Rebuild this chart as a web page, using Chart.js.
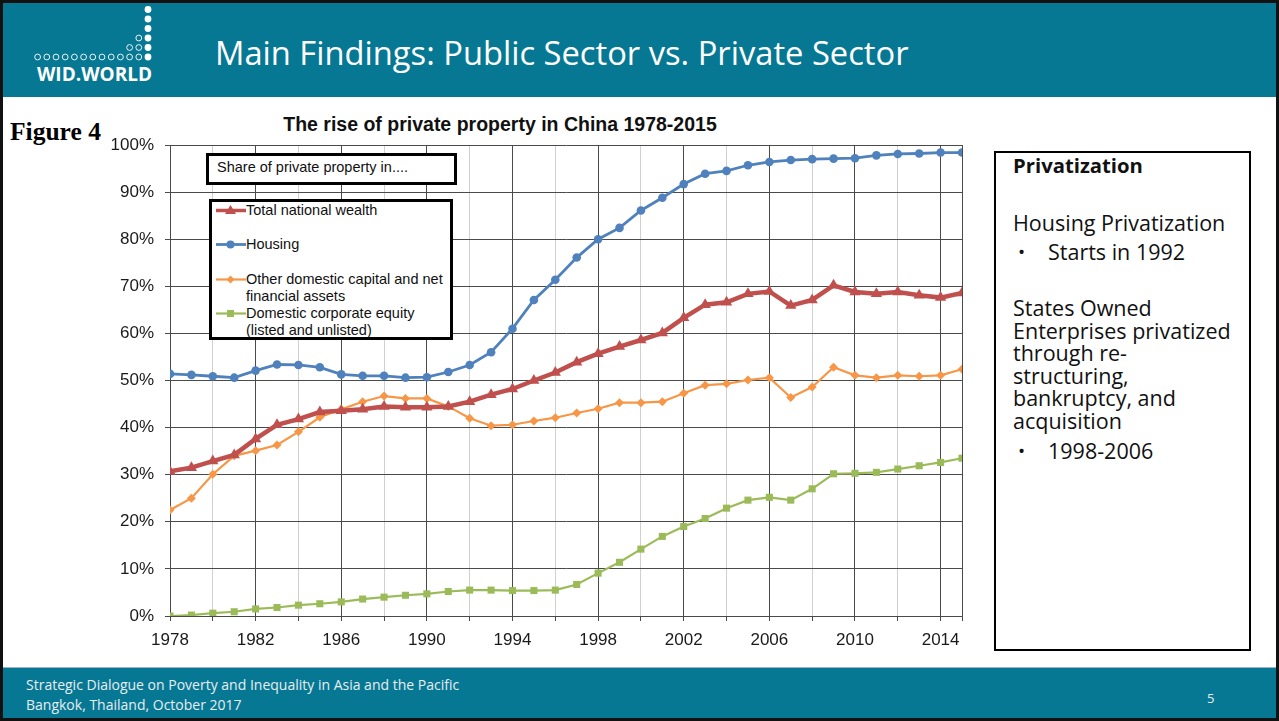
<!DOCTYPE html>
<html>
<head>
<meta charset="utf-8">
<title>Main Findings: Public Sector vs. Private Sector</title>
<script src="https://cdn.jsdelivr.net/npm/chart.js@4.4.0/dist/chart.umd.min.js"></script>
<style>
  html, body { margin: 0; padding: 0; }
  body {
    width: 1279px; height: 721px; position: relative; overflow: hidden;
    background: #fff; font-family: "Open Sans", sans-serif;
  }
  .frame { position: absolute; left: 0; top: 0; width: 1279px; height: 721px;
    border: 3px solid #111; box-sizing: border-box; z-index: 10; pointer-events: none; }
  .band { position: absolute; left: 0; width: 1279px; background: #077893; }
  .header { top: 0; height: 97px; }
  .footer { top: 667px; height: 54px; border-top: 1px solid #9fb3c8; }
  .header h1 {
    position: absolute; left: 215px; top: 37px; margin: 0;
    font-weight: normal; font-size: 32.7px; line-height: 1; color: #fff; white-space: nowrap;
  }
  .logo { position: absolute; left: 34px; top: 3px; }
  .logo-text { position: absolute; left: 37px; top: 65px; font-family: "Open Sans", sans-serif;
    font-weight: 700; font-size: 19px; color: #fff; line-height: 1; }
  .foot { position: absolute; left: 26px; color: #e6eef2; font-size: 14px; line-height: 1; white-space: nowrap; }
  .page-no { position: absolute; left: 1207px; top: 689px; color: #e6eef2; font-size: 13px; }

  .fig { position: absolute; left: 10px; top: 119px; font-family: "Liberation Serif", "Times New Roman", serif;
    font-weight: bold; font-size: 25.5px; line-height: 1; color: #000; }
  .chart-title { position: absolute; left: 250px; width: 500px; top: 113px; text-align: center;
    font-family: "Liberation Sans", Arial, sans-serif; font-weight: bold; font-size: 19.5px; color: #111; }
  #wrap { position: absolute; left: 0; top: 100px; width: 980px; height: 560px; }

  .note-box { position: absolute; left: 206px; top: 153px; width: 251px; height: 32px;
    border: 3px solid #000; box-sizing: border-box; background: #fff; z-index: 2;
    font-family: "Liberation Sans", Arial, sans-serif; font-size: 14.5px; color: #111; }
  .note-box span { position: absolute; left: 8px; top: 3px; }
  .legend-box { position: absolute; left: 209px; top: 199px; width: 244px; height: 141px;
    border: 3px solid #000; box-sizing: border-box; background: #fff; z-index: 2; }
  .legend-row { position: absolute; left: 0; font-family: "Liberation Sans", Arial, sans-serif;
    font-size: 14.5px; line-height: 17px; color: #111; }
  .legend-row svg { position: absolute; left: 4px; top: 0; }
  .legend-row div { position: absolute; left: 34px; top: 0; white-space: nowrap; }

  .side { position: absolute; left: 994px; top: 151px; width: 257px; height: 500px;
    border: 2.5px solid #000; box-sizing: border-box; font-size: 21.5px; color: #111; }
  .side p { position: absolute; left: 17px; margin: 0; line-height: 22.5px; white-space: nowrap; }
  .side b { font-weight: 700; font-size: 20.3px; }
  .bullet { position: absolute; left: 5px; font-size: 19px; }
</style>
</head>
<body>

<div class="band header">
  <svg class="logo" width="125" height="60" id="logoDots"></svg>
  <div class="logo-text">WID.WORLD</div>
  <h1>Main Findings: Public Sector vs. Private Sector</h1>
</div>

<div class="fig">Figure 4</div>
<div class="chart-title">The rise of private property in China 1978-2015</div>

<div id="wrap"><canvas id="lineChart"></canvas></div>

<div class="note-box"><span>Share of private property in....</span></div>
<div class="legend-box" id="legend"></div>

<div class="side">
  <p style="top:1px"><b>Privatization</b></p>
  <p style="top:59px">Housing Privatization</p>
  <p style="top:88px"><span class="bullet">•</span><span style="margin-left:35px">Starts in 1992</span></p>
  <p style="top:144px">States Owned<br>Enterprises privatized<br>through re-<br>structuring,<br>bankruptcy, and<br>acquisition</p>
  <p style="top:287px"><span class="bullet">•</span><span style="margin-left:35px">1998-2006</span></p>
</div>

<div class="band footer">
</div>
<div class="foot" style="top:677.5px">Strategic Dialogue on Poverty and Inequality in Asia and the Pacific</div>
<div class="foot" style="top:697.5px">Bangkok, Thailand, October 2017</div>
<div class="page-no">5</div>
<div class="frame"></div>

<script>
// years on the x axis
const years = [1978, 1979, 1980, 1981, 1982, 1983, 1984, 1985, 1986, 1987,
               1988, 1989, 1990, 1991, 1992, 1993, 1994, 1995, 1996, 1997,
               1998, 1999, 2000, 2001, 2002, 2003, 2004, 2005, 2006, 2007,
               2008, 2009, 2010, 2011, 2012, 2013, 2014, 2015];

// share of private property, %
const totalWealth = [30.7, 31.5, 32.9, 34.2, 37.6, 40.6, 41.8, 43.3, 43.6, 43.9,
                     44.5, 44.3, 44.3, 44.5, 45.5, 47.0, 48.2, 50.0, 51.7, 53.9,
                     55.7, 57.2, 58.6, 60.1, 63.3, 66.1, 66.6, 68.4, 68.9, 65.9,
                     67.1, 70.2, 68.8, 68.4, 68.8, 68.1, 67.6, 68.6];
const housing = [51.4, 51.2, 50.9, 50.6, 52.1, 53.4, 53.3, 52.8, 51.3, 51.0,
                 51.0, 50.6, 50.7, 51.8, 53.3, 56.0, 61.0, 67.1, 71.4, 76.1,
                 80.0, 82.4, 86.1, 88.8, 91.7, 93.9, 94.5, 95.7, 96.4, 96.8,
                 97.0, 97.1, 97.2, 97.8, 98.1, 98.2, 98.4, 98.4];
const otherCapital = [22.5, 25.0, 30.1, 34.0, 35.1, 36.3, 39.1, 42.2, 43.9, 45.5,
                      46.7, 46.2, 46.2, 44.5, 42.0, 40.4, 40.6, 41.4, 42.1, 43.1,
                      44.0, 45.3, 45.3, 45.5, 47.3, 49.0, 49.3, 50.1, 50.6, 46.4,
                      48.6, 52.8, 51.1, 50.6, 51.1, 50.9, 51.1, 52.4];
const corporateEquity = [0.0, 0.2, 0.6, 0.9, 1.5, 1.8, 2.3, 2.6, 3.0, 3.6,
                         4.0, 4.4, 4.7, 5.2, 5.5, 5.5, 5.4, 5.4, 5.5, 6.7,
                         9.1, 11.4, 14.2, 16.9, 19.0, 20.7, 22.9, 24.6, 25.2, 24.6,
                         27.0, 30.2, 30.3, 30.5, 31.2, 31.9, 32.6, 33.5];

// legend labels, one array entry per line
const seriesNames = [
  ['Total national wealth'],
  ['Housing'],
  ['Other domestic capital and net', 'financial assets'],
  ['Domestic corporate equity', '(listed and unlisted)']
];

// grid every 2 years, labels every 4, closing line at 2015
const xGridTicks = [1978, 1980, 1982, 1984, 1986, 1988, 1990, 1992, 1994, 1996,
                    1998, 2000, 2002, 2004, 2006, 2008, 2010, 2012, 2014, 2015];
const xLabelTicks = [1978, 1982, 1986, 1990, 1994, 1998, 2002, 2006, 2010, 2014];
const yTicks = [0, 10, 20, 30, 40, 50, 60, 70, 80, 90, 100];

const toPoints = arr => arr.map((v, i) => ({ x: years[i], y: v }));

const datasets = [
  { label: seriesNames[0].join(' '), data: toPoints(totalWealth),
    borderColor: '#C0504D', backgroundColor: '#C0504D', borderWidth: 4.5,
    pointStyle: 'triangle', pointRadius: 6.5, pointBorderWidth: 0 },
  { label: seriesNames[1].join(' '), data: toPoints(housing),
    borderColor: '#4F81BD', backgroundColor: '#4F81BD', borderWidth: 2.8,
    pointStyle: 'circle', pointRadius: 4.3, pointBorderWidth: 0 },
  { label: seriesNames[2].join(' '), data: toPoints(otherCapital),
    borderColor: '#F79646', backgroundColor: '#F79646', borderWidth: 2.2,
    pointStyle: 'rectRot', pointRadius: 4.5, pointBorderWidth: 0 },
  { label: seriesNames[3].join(' '), data: toPoints(corporateEquity),
    borderColor: '#9BBB59', backgroundColor: '#9BBB59', borderWidth: 2.2,
    pointStyle: 'rect', pointRadius: 5, pointBorderWidth: 0 }
];

const axisFont = { family: '"Liberation Sans", Arial, sans-serif', size: 17 };

new Chart(document.getElementById('lineChart'), {
  type: 'line',
  data: { datasets: datasets },
  options: {
    responsive: true,
    maintainAspectRatio: false,
    animation: false,
    layout: { padding: { left: 100, top: 45, right: 18, bottom: 14 } },
    elements: { line: { tension: 0 } },
    scales: {
      x: {
        type: 'linear', min: 1978, max: 2015,
        afterBuildTicks: s => { s.ticks = xGridTicks.map(v => ({ value: v })); },
        afterFit: s => { s.height = 30; },
        ticks: {
          autoSkip: false, maxRotation: 0, padding: 9,
          font: axisFont, color: '#1a1a1a',
          callback: v => (xLabelTicks.includes(v) ? String(v) : '')
        },
        grid: {
          color: c => (c.tick && (xLabelTicks.includes(c.tick.value) || c.tick.value === 2015) ? '#4a4a4a' : '#d0d0d0'),
          tickColor: '#4a4a4a',
          tickLength: 5,
          lineWidth: 1
        },
        border: { color: '#4a4a4a', width: 1 }
      },
      y: {
        min: 0, max: 100,
        afterBuildTicks: s => { s.ticks = yTicks.map(v => ({ value: v })); },
        afterFit: s => { s.width = 70; },
        ticks: { padding: 11, font: axisFont, color: '#1a1a1a', callback: v => v + '%' },
        grid: { color: '#4a4a4a', tickLength: 5, lineWidth: 1 },
        border: { color: '#4a4a4a', width: 1 }
      }
    },
    plugins: {
      legend: { display: false },
      title: { display: false },
      tooltip: { enabled: false }
    }
  }
});

// boxed legend, built from the datasets
const rowTops = [-0.5, 34, 68.5, 102.5];
const legendBox = document.getElementById('legend');
datasets.forEach((ds, i) => {
  const c = ds.borderColor;
  let marker = '';
  if (ds.pointStyle === 'triangle') marker = `<polygon points="14.5,3 20,12 9,12" fill="${c}"/>`;
  if (ds.pointStyle === 'circle') marker = `<circle cx="14.5" cy="8.5" r="4" fill="${c}"/>`;
  if (ds.pointStyle === 'rectRot') marker = `<polygon points="14.5,4.5 18.5,8.5 14.5,12.5 10.5,8.5" fill="${c}"/>`;
  if (ds.pointStyle === 'rect') marker = `<rect x="11" y="5" width="7" height="7" fill="${c}"/>`;
  const row = document.createElement('div');
  row.className = 'legend-row';
  row.style.top = rowTops[i] + 'px';
  row.innerHTML = `<svg width="30" height="17"><line x1="0" y1="8.5" x2="30" y2="8.5" stroke="${c}" stroke-width="${Math.min(ds.borderWidth, 3.5)}"/>${marker}</svg>` +
                  `<div>${seriesNames[i].join('<br>')}</div>`;
  legendBox.appendChild(row);
});

// WID.WORLD dot mark
const dots = document.getElementById('logoDots');
const dx = 114, gap = 9.2;
let svg = '';
for (let k = 0; k <= 12; k++) {
  const x = dx - k * gap, y = 54;
  svg += k === 0 ? `<circle cx="${x}" cy="${y}" r="3.4" fill="#fff"/>` :
                   `<circle cx="${x}" cy="${y}" r="2.9" fill="none" stroke="#fff" stroke-width="0.9"/>`;
}
[44.5, 35, 25.5, 16, 6.5].forEach(y => {
  svg += `<circle cx="${dx}" cy="${y}" r="3.4" fill="#fff"/>`;
});
svg += `<circle cx="${dx - gap}" cy="44.5" r="2.9" fill="none" stroke="#fff" stroke-width="0.9"/>`;
svg += `<circle cx="${dx - 2 * gap}" cy="44.5" r="2.9" fill="none" stroke="#fff" stroke-width="0.9"/>`;
svg += `<circle cx="${dx - gap}" cy="35" r="2.9" fill="none" stroke="#fff" stroke-width="0.9"/>`;
dots.innerHTML = svg;
</script>
</body>
</html>
